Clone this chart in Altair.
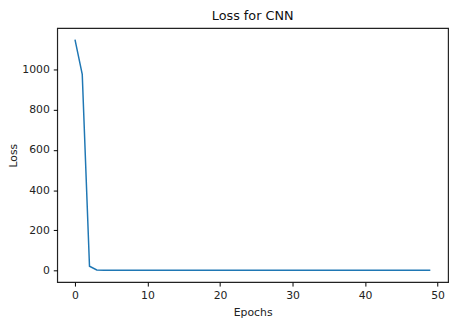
import altair as alt
import pandas as pd

epochs = list(range(50))
loss = [1148, 975, 22, 3] + [1.5] * 46

df = pd.DataFrame({"Epochs": epochs, "Loss": loss})

font = "DejaVu Sans"

chart = alt.Chart(df).mark_line(color="#1f77b4", strokeWidth=1.5, clip=True).encode(
    x=alt.X("Epochs:Q", scale=alt.Scale(domain=[-2.45, 51.45], nice=False, zero=False),
            axis=alt.Axis(values=[0, 10, 20, 30, 40, 50], title="Epochs", grid=False, format="d",
                          domain=False, tickColor="black", tickSize=4, labelColor="#222222",
                          labelFont=font, labelFontSize=11, titleFont=font, titleFontSize=11,
                          titleFontWeight="normal", titleColor="#222222", labelPadding=4, titlePadding=6)),
    y=alt.Y("Loss:Q", scale=alt.Scale(domain=[-57.3, 1205], nice=False, zero=False),
            axis=alt.Axis(values=[0, 200, 400, 600, 800, 1000], title="Loss", grid=False, format="d",
                          domain=False, tickColor="black", tickSize=4, labelColor="#222222",
                          labelFont=font, labelFontSize=11, titleFont=font, titleFontSize=11,
                          titleFontWeight="normal", titleColor="#222222", labelPadding=4, titlePadding=3)),
).properties(
    width=397, height=258,
    title=alt.TitleParams("Loss for CNN", font=font, fontSize=13, fontWeight="normal", color="#111111", offset=5),
    autosize=alt.AutoSizeParams(type="none"),
    padding={"left": 50, "top": 18, "right": 6, "bottom": 35},
).configure(background="white").configure_view(stroke="#222222", strokeWidth=1.2)

chart.save("out.html", embed_options={"renderer": "svg", "actions": False})
